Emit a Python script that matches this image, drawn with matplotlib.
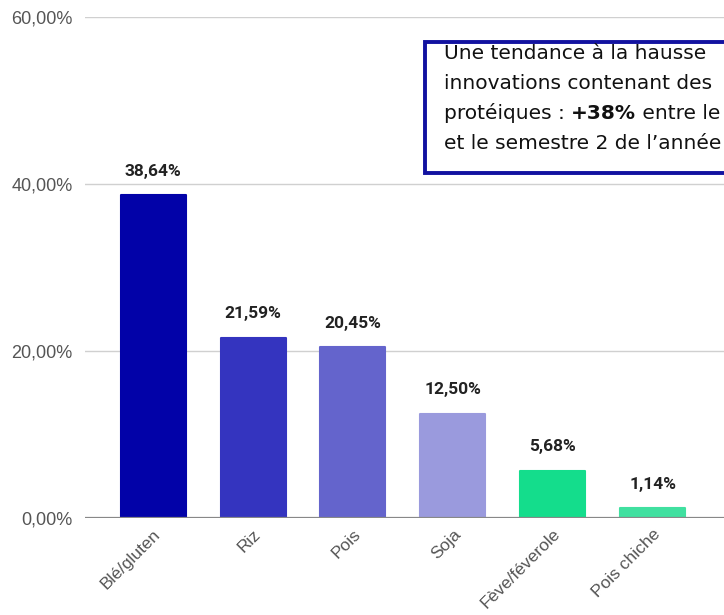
import matplotlib
matplotlib.use("Agg")
import matplotlib.pyplot as plt
from matplotlib.patches import Rectangle

# Data
categories = ["Blé/gluten", "Riz", "Pois", "Soja", "Fève/féverole", "Pois chiche"]
values = [38.64, 21.59, 20.45, 12.50, 5.68, 1.14]
bar_colors = ["#0202a8", "#3434bf", "#6464cc", "#9a9add", "#14dd8c", "#40e0a0"]
yticks = [0, 20, 40, 60]
note_lines = ["Une tendance à la hausse",
              "innovations contenant des",
              None,
              "et le semestre 2 de l\u2019année"]
note_bold = ["protéiques : ", "+38%", " entre le"]

fig = plt.figure(figsize=(7.24, 6.15), dpi=100)
W, H = 724, 615
ax = fig.add_axes([85 / W, (H - 518) / H, (800 - 85) / W, (518 - 17) / H])

x = list(range(len(categories)))
ax.bar(x, values, width=0.65, color=bar_colors, zorder=3,
       edgecolor=bar_colors, linewidth=1.5, joinstyle="round")

# value labels above bars
for xi, v in zip(x, values):
    ax.annotate(f"{v:.2f}%".replace(".", ","), (xi, v), xytext=(0, 12),
                textcoords="offset points", ha="center", va="bottom",
                fontsize=12.5, fontweight="bold", family="Roboto", color="#222222")

ax.set_ylim(0, 60)
ax.set_xlim(-0.68, -0.68 + (800 - 85) / 100)
ax.set_yticks(yticks)
ax.set_yticklabels([f"{t:.2f}%".replace(".", ",") for t in yticks],
                   fontsize=13, color="#555555", family="Liberation Sans")
ax.set_xticks(x)
ax.set_xticklabels(categories, rotation=45, ha="right", rotation_mode="anchor",
                   fontsize=12.5, color="#555555", family="Liberation Sans")
ax.tick_params(axis="both", length=0)
ax.tick_params(axis="y", pad=9)
ax.tick_params(axis="x", pad=6)
for s in ax.spines.values():
    s.set_visible(False)
for t in yticks[1:]:
    ax.axhline(t, color="#d0d0d0", lw=1, zorder=1)
ax.axhline(0, color="#888888", lw=1.6, zorder=4)

# annotation box (runs off the right edge)
box = Rectangle((425 / W, (H - 173) / H), 400 / W, (173 - 42) / H,
                transform=fig.transFigure, facecolor="white",
                edgecolor="#1212a0", lw=2.8, zorder=5)
fig.patches.append(box)

renderer = fig.canvas.get_renderer()
tx = 444 / W
baselines = [59, 89, 119, 149]
fam = "DejaVu Sans"


def text_width(s, size, weight="normal"):
    p = fig.text(0, 0, s, fontsize=size, family=fam, fontweight=weight)
    w = p.get_window_extent(renderer=renderer).width
    p.remove()
    return w


# pick a size so every line fits inside the picture
widths = [text_width(l, 10) for l in note_lines if l is not None]
widths.append(sum(text_width(p, 10, "bold" if i == 1 else "normal")
                  for i, p in enumerate(note_bold)))
fs = 10 * (720 - 444) / max(widths)

for line, yb in zip(note_lines, baselines):
    if line is not None:
        fig.text(tx, (H - yb) / H, line, fontsize=fs, family=fam,
                 color="#111111", va="baseline", zorder=6)

# mixed weight line
cur = tx
for i, part in enumerate(note_bold):
    t = fig.text(cur, (H - baselines[2]) / H, part, fontsize=fs, family=fam,
                 fontweight="bold" if i == 1 else "normal",
                 color="#111111", va="baseline", zorder=6)
    bb = t.get_window_extent(renderer=renderer)
    cur = cur + bb.width / W

fig.savefig("out.png", dpi=100)
